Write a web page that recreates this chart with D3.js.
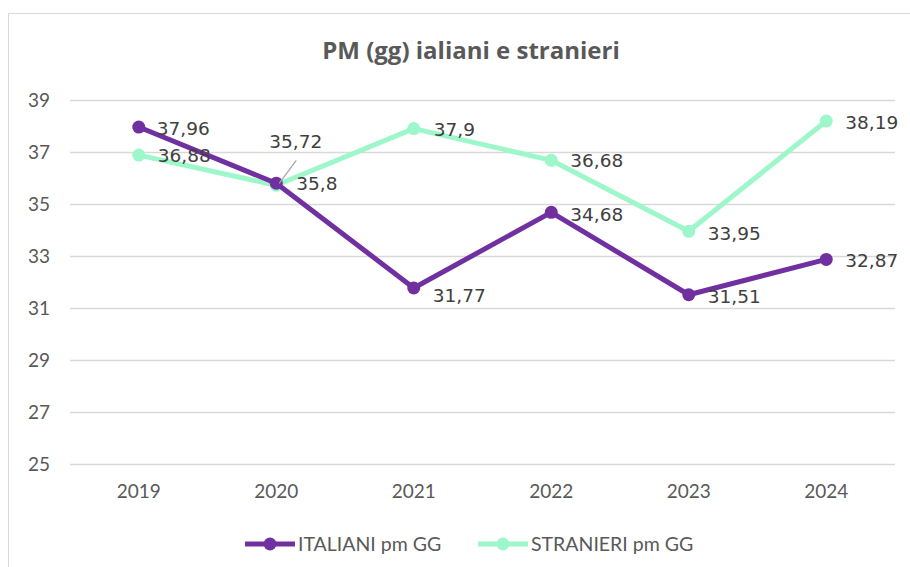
<!DOCTYPE html>
<html>
<head>
  <meta charset="utf-8">
  <script src="https://d3js.org/d3.v7.min.js"></script>
  <style>
    body { margin: 0; background: #fff; }
    text { font-family: Lato, "Open Sans", sans-serif; }
  </style>
</head>
<body>
<script type="text/javascript">

  var years = ["2019", "2020", "2021", "2022", "2023", "2024"];
  var italiani = [37.96, 35.8, 31.77, 34.68, 31.51, 32.87];
  var stranieri = [36.88, 35.72, 37.9, 36.68, 33.95, 38.19];
  var yTicks = [25, 27, 29, 31, 33, 35, 37, 39];
  var seriesNames = ["ITALIANI pm GG", "STRANIERI pm GG"];
  var colors = ["#7030a0", "#9ef7ca"];

  var width = 910, height = 567;
  var plot = {left: 70, right: 895, top: 100, bottom: 464};

  var svg = d3.select("body").append("svg")
    .attr("width", width)
    .attr("height", height);

  // chart frame
  svg.append("rect")
    .attr("x", 8.5).attr("y", 13.5)
    .attr("width", 920).attr("height", 580)
    .attr("fill", "#fff")
    .attr("stroke", "#d9d9d9");

  svg.append("text")
    .attr("x", 471).attr("y", 59)
    .attr("text-anchor", "middle")
    .attr("font-size", 24).attr("font-weight", 700)
    .attr("fill", "#595959")
    .style("font-family", "'Open Sans', sans-serif")
    .text("PM (gg) ialiani e stranieri");

  var x = d3.scaleBand().domain(years).range([plot.left, plot.right]);
  var y = d3.scaleLinear().domain([25, 39]).range([plot.bottom, plot.top]);

  // gridlines + y labels
  var yAxis = svg.append("g")
    .attr("transform", "translate(" + plot.left + ",0)")
    .call(d3.axisLeft(y).tickValues(yTicks).tickSize(-(plot.right - plot.left)).tickPadding(20));
  yAxis.select(".domain").remove();
  yAxis.selectAll("line").attr("stroke", "#d9d9d9").attr("stroke-width", 1.5);
  yAxis.selectAll("text").attr("font-size", 19).attr("fill", "#595959")
    .style("font-family", "Lato, sans-serif");

  var xAxis = svg.append("g")
    .attr("transform", "translate(0," + plot.bottom + ")")
    .call(d3.axisBottom(x).tickSize(0).tickPadding(21));
  xAxis.select(".domain").remove();
  xAxis.selectAll("text").attr("font-size", 19).attr("fill", "#595959")
    .style("font-family", "Lato, sans-serif");

  function cx(i) { return x(years[i]) + x.bandwidth() / 2; }

  var series = [italiani, stranieri];
  var line = d3.line()
    .x(function(d, i) { return cx(i); })
    .y(function(d) { return y(d); });

  // draw stranieri first so italiani sits on top like in the original
  [1, 0].forEach(function(s) {
    svg.append("path")
      .datum(series[s])
      .attr("d", line)
      .attr("fill", "none")
      .attr("stroke", colors[s])
      .attr("stroke-width", 5)
      .attr("stroke-linejoin", "round");
    svg.selectAll(".pt" + s)
      .data(series[s])
      .enter().append("circle")
      .attr("cx", function(d, i) { return cx(i); })
      .attr("cy", function(d) { return y(d); })
      .attr("r", 6.5)
      .attr("fill", colors[s]);
  });

  // leader line for 35,72 label
  svg.append("line")
    .attr("x1", cx(1) + 20).attr("y1", y(35.72) - 25)
    .attr("x2", cx(1) + 3).attr("y2", y(35.72) - 2)
    .attr("stroke", "#a6a6a6").attr("stroke-width", 1.3);

  function fmt(v) { return String(v).replace(".", ","); }

  var labelOffsets = [
    [[18, 8], [20, 7], [19, 14], [19, 9], [19, 8], [19, 8]],
    [[19, 7], [-7, -37], [20, 7], [19, 7], [19, 9], [19, 8]]
  ];

  [0, 1].forEach(function(s) {
    svg.selectAll(".lbl" + s)
      .data(series[s])
      .enter().append("text")
      .attr("x", function(d, i) { return cx(i) + labelOffsets[s][i][0]; })
      .attr("y", function(d, i) { return y(d) + labelOffsets[s][i][1]; })
      .attr("font-size", 18.5)
      .attr("fill", "#404040")
      .style("font-family", "'DejaVu Sans', sans-serif")
      .text(function(d) { return fmt(d); });
  });

  // legend
  var legendX = [245, 478];
  seriesNames.forEach(function(name, s) {
    var g = svg.append("g").attr("transform", "translate(" + legendX[s] + ",544)");
    g.append("line").attr("x1", 0).attr("x2", 50)
      .attr("stroke", colors[s]).attr("stroke-width", 5);
    g.append("circle").attr("cx", 25).attr("r", 6.5).attr("fill", colors[s]);
    g.append("text").attr("x", 53).attr("y", 7)
      .attr("font-size", 19.5).attr("fill", "#595959")
      .text(name);
  });

</script>
</body>
</html>
